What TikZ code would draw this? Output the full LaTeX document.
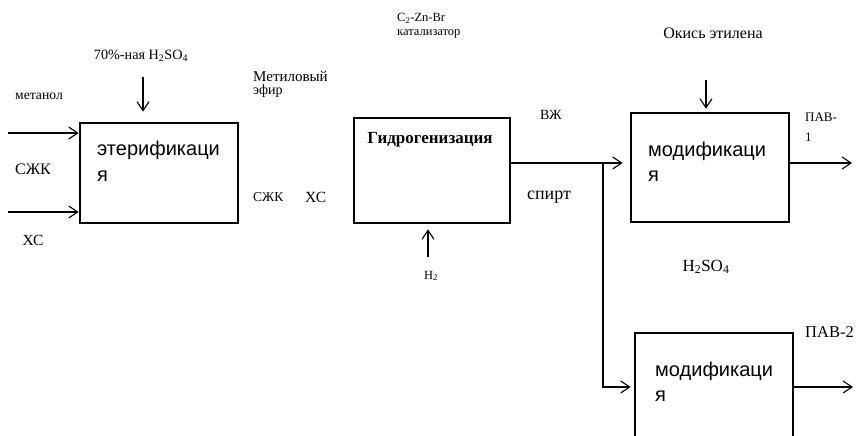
\documentclass[tikz,border=0pt]{standalone}
\usepackage{fontspec}
\setmainfont{Liberation Serif}
\newfontfamily\boxfont{Liberation Sans}
\usetikzlibrary{arrows.meta}
\newcommand{\fsz}[1]{\fontsize{#1bp}{#1bp}\selectfont}
\begin{document}
\begin{tikzpicture}[x=1bp,y=-1bp,
  proc/.style={draw, line width=2.6bp, inner sep=0pt},
  flow/.style={line width=1.1bp, -{Straight Barb[length=9bp,width=12bp,line width=1.1bp]}},
  lbl/.style={inner sep=0pt},
  bt/.style={font=\boxfont\fsz{20}, inner sep=0pt, anchor=base west},
]
\clip (0,0) rectangle (857,436);
\fill[white] (0,0) rectangle (857,436);

% process boxes
\node[proc, minimum width=158bp, minimum height=100bp] (b1) at (159,173) {};
\node[proc, minimum width=156bp, minimum height=105bp] (b2) at (432,170.5) {};
\node[proc, minimum width=158bp, minimum height=109bp] (b3) at (710,167.5) {};
\node[proc, minimum width=158bp, minimum height=110bp] (b4) at (714,388) {};

% box texts
\node[bt] (e1a) at (97,156) {этерификаци};
\node[bt] (e1b) at (97,182) {я};
\node[font=\bfseries\fsz{17}, inner sep=0pt] (g) at (430,140) {Гидрогенизация};
\node[bt] (m1a) at (648,157) {модификаци};
\node[bt] (m1b) at (648,182) {я};
\node[bt] (m2a) at (655,377) {модификаци};
\node[bt] (m2b) at (655,401) {я};

% labels
\node[lbl, font=\fsz{13.7}] (metanol) at (39,96) {метанол};
\node[lbl, font=\fsz{16}] (szk1) at (33,169) {СЖК};
\node[lbl, font=\fsz{15.5}] (xs1) at (33,240) {ХС};
\node[lbl, font=\fsz{14.2}] (acid1) at (141,56) {70\%-ная H\textsubscript{2}SO\textsubscript{4}};
\node[lbl, font=\fsz{15}, anchor=west] (metil) at (253,76) {Метиловый};
\node[lbl, font=\fsz{14}, anchor=west] (efir) at (253,91) {эфир};
\node[lbl, font=\fsz{13.5}, anchor=west] (szk2) at (253,197) {СЖК};
\node[lbl, font=\fsz{15.5}, anchor=west] (xs2) at (305,197) {ХС};
\node[lbl, font=\fsz{12.5}, anchor=west] (cat1) at (397,18) {C\textsubscript{2}-Zn-Br};
\node[lbl, font=\fsz{12.5}, anchor=west] (cat2) at (397,34) {катализатор};
\node[lbl, font=\fsz{14}] (vzh) at (551,115) {ВЖ};
\node[lbl, font=\fsz{18}] (spirt) at (549,197) {спирт};
\node[lbl, font=\fsz{12.5}] (h2) at (431,276) {H\textsubscript{2}};
\node[lbl, font=\fsz{16}] (okis) at (713,33) {Окись этилена};
\node[lbl, font=\fsz{13}, anchor=west] (pav1a) at (805,117) {ПАВ-};
\node[lbl, font=\fsz{13}, anchor=west] (pav1b) at (805,137) {1};
\node[lbl, font=\fsz{17}] (acid2) at (706,267) {H\textsubscript{2}SO\textsubscript{4}};
\node[lbl, font=\fsz{16.5}, anchor=west] (pav2) at (805,332) {ПАВ-2};

% inputs to esterification
\coordinate (i1) at (8,133);
\coordinate (i2) at (8,212);
\draw[flow] (i1) -- (i1 -| b1.west);
\draw[flow] (i2) -- (i2 -| b1.west);
\coordinate (a1s) at (143,77);
\path (b1.north -| a1s) ++(0,-10) coordinate (a1e);
\draw[flow] (a1s) -- (a1e);

% hydrogen
\coordinate (h2s) at (428,257);
\path (b2.south -| h2s) ++(0,5) coordinate (h2e);
\draw[flow] (h2s) -- (h2e);

% hydrogenation output and branch
\coordinate (br) at (603,163);
\coordinate (br2) at (603,387);
\path (br -| b3.west) ++(-7,0) coordinate (b3in);
\path (br2 -| b4.west) ++(-3,0) coordinate (b4in);
\draw[flow] (br -| b2.east) -- (b3in);
\draw[flow] (br) -- (br2) -- (b4in);

% ethylene oxide
\coordinate (ok1) at (706,80);
\path (b3.north -| ok1) ++(0,-3) coordinate (ok2);
\draw[flow] (ok1) -- (ok2);

% outputs
\coordinate (o1) at (852,163);
\coordinate (o2) at (853,387);
\draw[flow] (o1 -| b3.east) -- (o1);
\draw[flow] (o2 -| b4.east) -- (o2);
\end{tikzpicture}
\end{document}
